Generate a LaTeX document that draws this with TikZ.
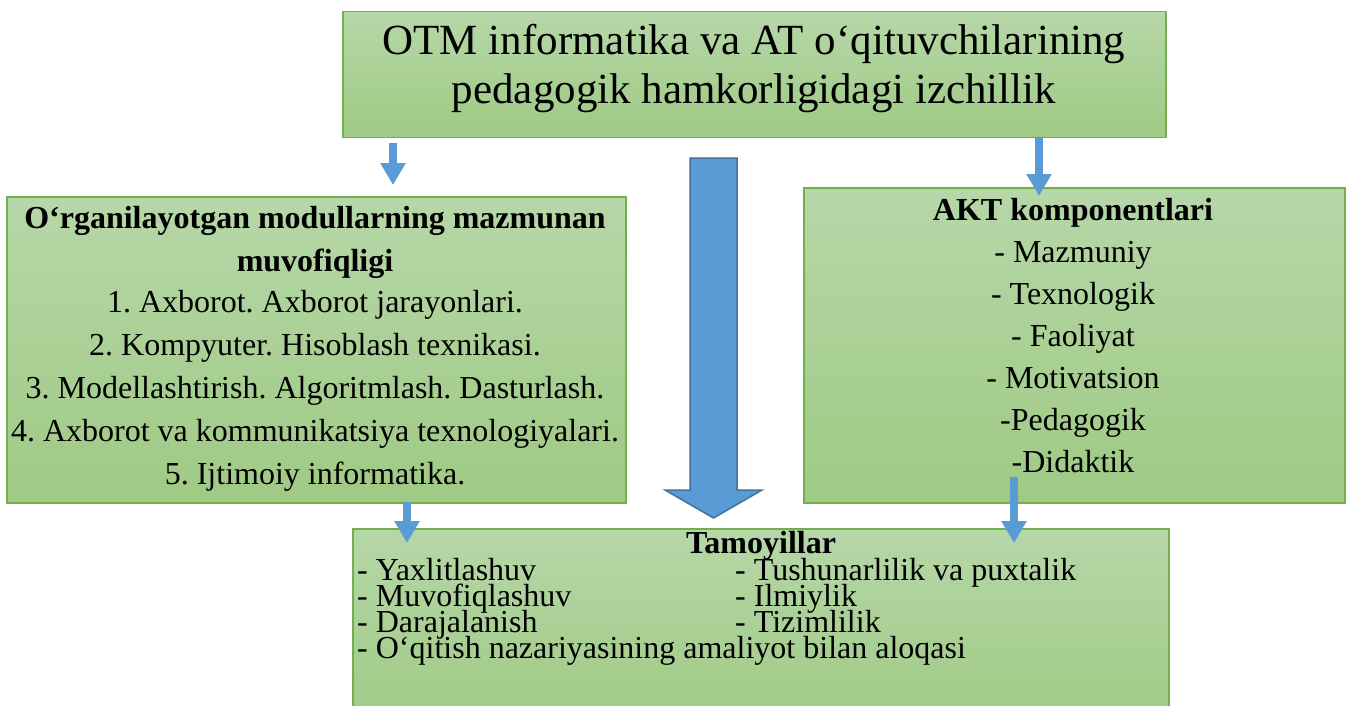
\documentclass[tikz,border=0pt]{standalone}
\usepackage{fontspec}
\setmainfont{Liberation Serif}
\usetikzlibrary{arrows.meta}
\definecolor{boxtop}{HTML}{B6D7A8}
\definecolor{boxbot}{HTML}{9FCA84}
\definecolor{boxline}{HTML}{74AF4F}
\definecolor{arrblue}{HTML}{5B9BD5}
\definecolor{arrline}{HTML}{41719C}
\frenchspacing
\tikzset{
  box/.style={draw=boxline, line width=1.5pt, top color=boxtop, bottom color=boxbot,
    anchor=north west, inner sep=0pt},
  thinarrow/.style={draw=arrblue, line width=7.5pt, -{Triangle[width=24pt,length=22pt]}},
  line/.style={anchor=base, inner sep=0pt, font=\fontsize{32}{34}\selectfont},
  leftline/.style={line, anchor=base west, text height=19pt, text depth=5pt},
  headline/.style={line, font=\fontsize{32}{34}\selectfont\bfseries},
  titleline/.style={line, font=\fontsize{43}{46}\selectfont}
}
\begin{document}
\begin{tikzpicture}[x=1pt,y=-1pt]
      \useasboundingbox (0,0) rectangle (1346,706);
      \begin{scope}
        \node[box, minimum width=823pt, minimum height=126pt] (head) at (342,11) {};
        \node[box, minimum width=619pt, minimum height=306pt] (modul) at (6,196) {};
        \node[box, minimum width=541pt, minimum height=315pt] (akt) at (803,187) {};
        \node[box, minimum width=816pt, minimum height=200pt] (tamoy) at (352,528) {};

        \node[titleline] (t1) at (754,55) {OTM informatika va AT o‘qituvchilarining};
        \node[titleline] (t2) at (754,104) {pedagogik hamkorligidagi izchillik};

        \node[headline] (m1) at (315,228) {O‘rganilayotgan modullarning mazmunan};
        \node[headline] (m2) at (315,271) {muvofiqligi};
        \foreach \txt [count=\i] in {1. Axborot. Axborot jarayonlari.,
            2. Kompyuter. Hisoblash texnikasi.,
            3. Modellashtirish. Algoritmlash. Dasturlash.,
            4. Axborot va kommunikatsiya texnologiyalari.,
            5. Ijtimoiy informatika.}
          \node[line] (mi\i) at (315,269+43*\i) {\txt};

        \node[headline] (a0) at (1073,220) {AKT komponentlari};
        \foreach \txt [count=\i] in {- Mazmuniy, - Texnologik, - Faoliyat,
            - Motivatsion, -Pedagogik, -Didaktik}
          \node[line] (ai\i) at (1073,220+42*\i) {\txt};

        \node[headline] (p0) at (761,553) {Tamoyillar};
        \foreach \txt [count=\i] in {- Yaxlitlashuv, - Muvofiqlashuv, - Darajalanish,
            - O‘qitish nazariyasining amaliyot bilan aloqasi}
          \node[leftline] (pl\i) at (357,554+26*\i) {\txt};
        \foreach \txt [count=\i] in {- Tushunarlilik va puxtalik, - Ilmiylik, - Tizimlilik}
          \node[leftline] (pr\i) at (735,554+26*\i) {\txt};

        \coordinate (s1) at (393,143);
        \coordinate (e1) at (393,185);
        \coordinate (s2) at (1039,137);
        \coordinate (e2) at (1039,196);
        \coordinate (s3) at (407,502);
        \coordinate (e3) at (407,543);
        \coordinate (s4) at (1014,477);
        \coordinate (e4) at (1014,543);
        \draw[thinarrow] (s1) -- (e1);
        \draw[thinarrow] (s2) -- (e2);
        \draw[thinarrow] (s3) -- (e3);
        \draw[thinarrow] (s4) -- (e4);

        \draw[fill=arrblue, draw=arrline, line width=1.5pt, line join=miter]
          (690,158) -- (737,158) -- (737,490) -- (762,490) -- (713.5,518)
          -- (665,490) -- (690,490) -- cycle;
      \end{scope}
    \end{tikzpicture}
\end{document}
